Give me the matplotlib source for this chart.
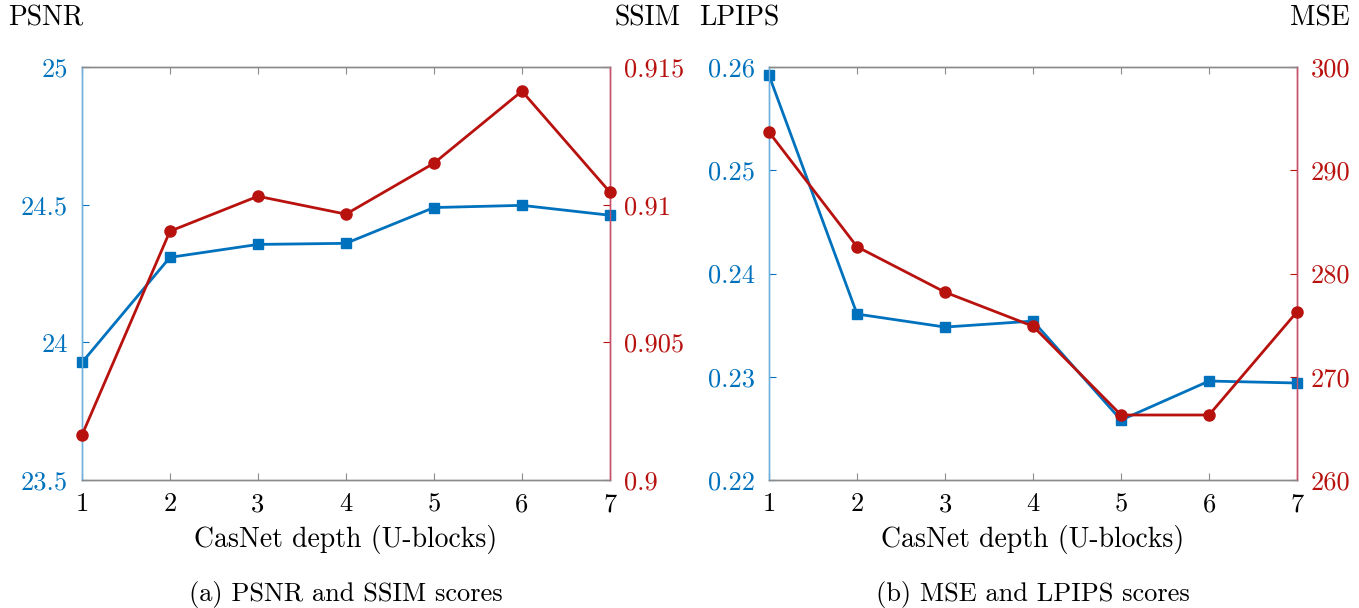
import matplotlib
matplotlib.use("Agg")
import matplotlib.pyplot as plt

plt.rcParams['font.family'] = ['cmr10', 'DejaVu Serif']
plt.rcParams['axes.formatter.use_mathtext'] = True
plt.rcParams['mathtext.fontset'] = 'cm'

depth = [1, 2, 3, 4, 5, 6, 7]
psnr = [23.927, 24.309, 24.356, 24.360, 24.490, 24.498, 24.462]
ssim = [0.90163, 0.90904, 0.91031, 0.90966, 0.91151, 0.91413, 0.91046]
lpips = [0.2592, 0.23608, 0.23482, 0.23540, 0.22581, 0.22959, 0.22940]
mse = [293.7, 282.6, 278.2, 274.9, 266.3, 266.3, 276.3]

psnr_ticks = [23.5, 24, 24.5, 25]
psnr_labels = ['23.5', '24', '24.5', '25']
ssim_ticks = [0.9, 0.905, 0.91, 0.915]
ssim_labels = ['0.9', '0.905', '0.91', '0.915']
lpips_ticks = [0.22, 0.23, 0.24, 0.25, 0.26]
lpips_labels = ['0.22', '0.23', '0.24', '0.25', '0.26']
mse_ticks = [260, 270, 280, 290, 300]
mse_labels = ['260', '270', '280', '290', '300']

BLUE = '#0072BD'
RED = '#B8120F'
BLUE_SPINE = '#6FB0DE'
RED_SPINE = '#C9506A'
GRAY = '#8A8A8A'
FS = 19

fig = plt.figure(figsize=(13.59, 6.08), dpi=100)

def panel(left, lvals, rvals, lt, ll, rt, rl, lname, rname, caption, lx, rx):
    ax = fig.add_axes([left, 0.2105, 0.3885, 0.679])
    ax2 = ax.twinx()
    ax.plot(depth, lvals, color=BLUE, lw=2, marker='s', ms=7, zorder=3, clip_on=False)
    ax2.plot(depth, rvals, color=RED, lw=2, marker='o', ms=8, zorder=3, clip_on=False)
    ax.set_xlim(1, 7)
    ax.set_ylim(lt[0], lt[-1])
    ax2.set_ylim(rt[0], rt[-1])
    ax.set_xticks(depth)
    ax.set_xticklabels([str(d) for d in depth], fontsize=FS)
    ax.set_yticks(lt)
    ax.set_yticklabels(ll, fontsize=FS, color=BLUE)
    ax2.set_yticks(rt)
    ax2.set_yticklabels(rl, fontsize=FS, color=RED)
    ax.tick_params(axis='x', direction='in', top=True, length=5, color=GRAY, pad=9)
    ax.tick_params(axis='y', direction='in', length=5, color=BLUE, pad=10)
    ax2.tick_params(axis='y', direction='in', length=5, color=RED, pad=10)
    for a in (ax, ax2):
        a.spines['top'].set_color(GRAY)
        a.spines['bottom'].set_color(GRAY)
        a.spines['left'].set_color(BLUE_SPINE)
        a.spines['right'].set_color(RED_SPINE)
        for s in a.spines.values():
            s.set_linewidth(1.0)
    ax.set_xlabel('CasNet depth (U-blocks)', fontsize=FS + 1, labelpad=6)
    ax.text(lx, 1.119, lname, transform=ax.transAxes, fontsize=FS + 1,
            ha='center', va='center')
    ax.text(rx, 1.119, rname, transform=ax.transAxes, fontsize=FS + 1,
            ha='center', va='center')
    fig.text(left + 0.3885 / 2, 0.022, caption, fontsize=FS, ha='center', va='center')
    return ax, ax2

panel(0.0603, psnr, ssim, psnr_ticks, psnr_labels, ssim_ticks, ssim_labels,
      'PSNR', 'SSIM', '(a) PSNR and SSIM scores', -0.068, 1.072)
panel(0.5659, lpips, mse, lpips_ticks, lpips_labels, mse_ticks, mse_labels,
      'LPIPS', 'MSE', '(b) MSE and LPIPS scores', -0.056, 1.044)

fig.savefig('out.png', dpi=100)
